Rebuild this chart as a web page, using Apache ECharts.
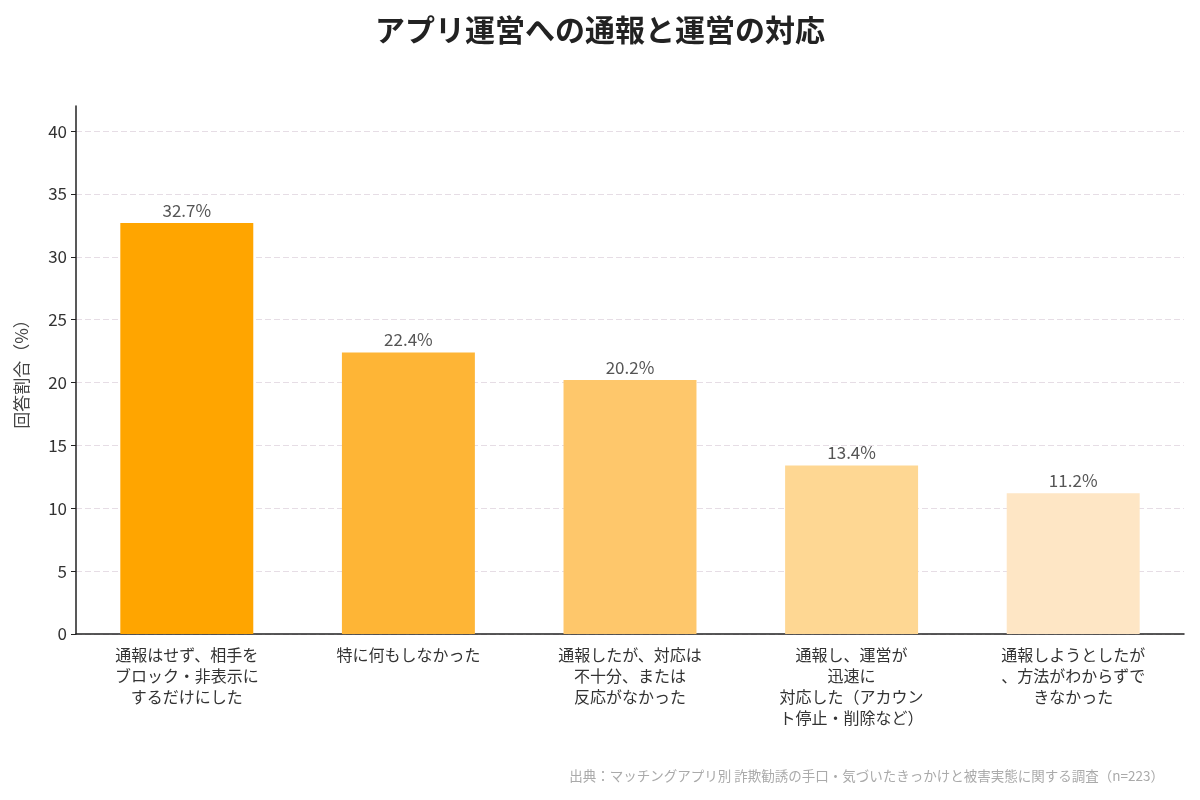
<!DOCTYPE html>
<html>
<head>
<meta charset="utf-8">
<script src="https://cdn.jsdelivr.net/npm/echarts@6/dist/echarts.min.js"></script>
<style>
  html, body { margin: 0; padding: 0; background: #fff; }
  #main { width: 1200px; height: 800px; }
</style>
</head>
<body>
<div id="main"></div>
<script>
var categories = [
  '通報はせず、相手を\nブロック・非表示に\nするだけにした',
  '特に何もしなかった',
  '通報したが、対応は\n不十分、または\n反応がなかった',
  '通報し、運営が\n迅速に\n対応した（アカウン\nト停止・削除など）',
  '通報しようとしたが\n、方法がわからずで\nきなかった'
]
var values = [32.7, 22.4, 20.2, 13.4, 11.2]
var yTicks = [0, 5, 10, 15, 20, 25, 30, 35, 40]

// バーの色（濃い→薄い）
var barColors = ['#ffa500', '#feb536', '#fec76b', '#fed793', '#fee6c5']

var font = '"Noto Sans CJK JP", "Noto Sans", sans-serif'

var myChart = echarts.init(document.getElementById('main'))

myChart.setOption({
  backgroundColor: '#ffffff',
  textStyle: { fontFamily: font },
  title: [
    {
      text: 'アプリ運営への通報と運営の対応',
      left: 'center',
      top: 10,
      textStyle: { fontSize: 30, fontWeight: 'bold', color: '#222', fontFamily: font }
    },
    {
      text: '出典：マッチングアプリ別 詐欺勧誘の手口・気づいたきっかけと被害実態に関する調査（n=223）',
      right: 31,
      top: 764,
      textStyle: { fontSize: 13.5, fontWeight: 'normal', color: '#aaa', fontFamily: font }
    }
  ],
  grid: {
    left: 76,
    right: 16,
    top: 106,
    bottom: 166
  },
  xAxis: {
    type: 'category',
    data: categories,
    axisLine: { lineStyle: { color: '#222', width: 1.5 } },
    axisTick: { alignWithLabel: true, length: 5, lineStyle: { color: '#222' } },
    axisLabel: {
      interval: 0,
      fontSize: 16,
      lineHeight: 21,
      color: '#333',
      margin: 10,
      fontFamily: font
    }
  },
  yAxis: {
    type: 'value',
    min: 0,
    max: 42,
    interval: 5,
    name: '回答割合（%）',
    nameLocation: 'middle',
    nameGap: 46,
    nameTextStyle: { fontSize: 17, color: '#444', fontFamily: font },
    axisLine: { show: true, lineStyle: { color: '#222', width: 1.5 } },
    axisTick: { show: true, length: 5, lineStyle: { color: '#222' } },
    axisLabel: {
      fontSize: 17,
      color: '#333',
      margin: 9,
      showMaxLabel: false,
      formatter: function (v) { return yTicks.indexOf(v) >= 0 ? String(v) : '' }
    },
    splitLine: {
      show: true,
      showMaxLine: false,
      lineStyle: { color: '#e6dde5', type: [6, 3], width: 1 }
    }
  },
  series: [
    {
      type: 'bar',
      barWidth: '60%',
      data: values.map(function (v, i) {
        return { value: v, itemStyle: { color: barColors[i] } }
      }),
      label: {
        show: true,
        position: 'top',
        distance: 4,
        fontSize: 17,
        color: '#555',
        fontFamily: font,
        formatter: '{c}%'
      }
    }
  ]
})
</script>
</body>
</html>
